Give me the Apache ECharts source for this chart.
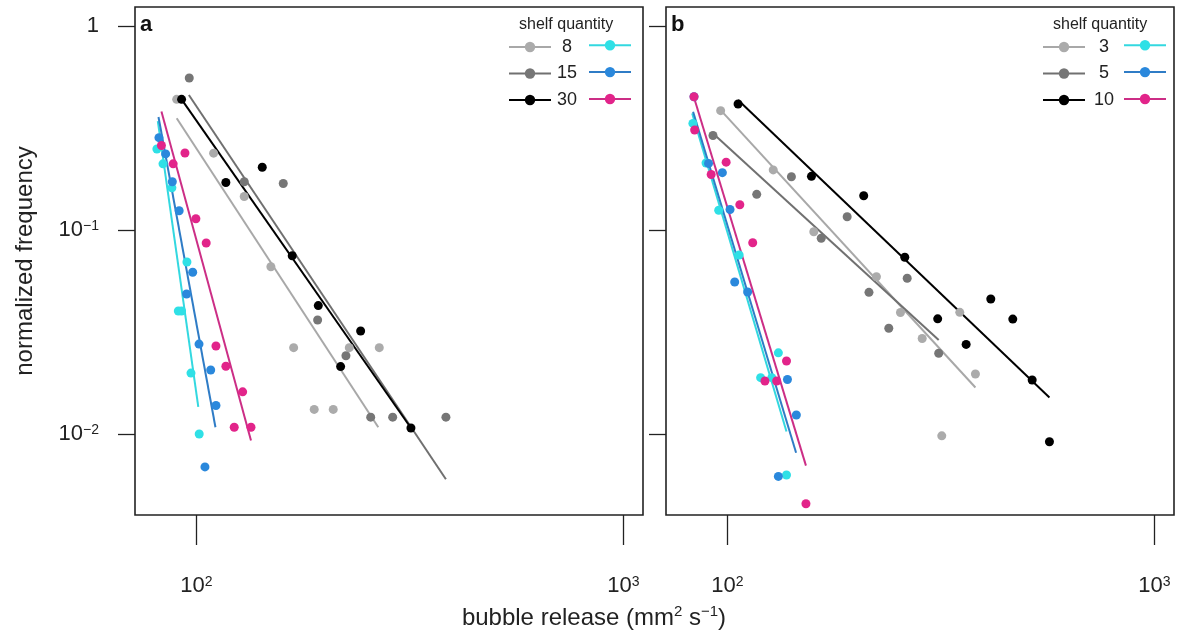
<!DOCTYPE html>
<html>
<head>
<meta charset="utf-8">
<script src="https://cdn.jsdelivr.net/npm/echarts@6/dist/echarts.min.js"></script>
<style>
html,body{margin:0;padding:0;background:#fff;}
#chart{width:1188px;height:633px;}
</style>
</head>
<body>
<div id="chart"></div>
<script>
// ---------- tick values ----------
const xTickValues = [100, 1000];
const xTickExponents = [2, 3];
const yTickValues = [0.01, 0.1, 1];
const yTickLabels = ['10{s|\u22122}', '10{s|\u22121}', '1'];

// ---------- legend labels ----------
const shelfA = ['8', '15', '30'];
const shelfB = ['3', '5', '10'];

// ---------- panel a : points [bubble release, normalized frequency] ----------
const a8Grey  = [[89.9,0.437],[109.7,0.238],[129.4,0.146],[149.4,0.0661],[168.9,0.0265],[228.0,0.0265],[268.0,0.0265],[188.7,0.0132],[209.1,0.0132]];
const a15Grey = [[96.2,0.556],[129.4,0.1725],[159.7,0.169],[192.2,0.0362],[223.9,0.0242],[255.9,0.0121],[288.1,0.0121],[383.9,0.0121]];
const a30Grey = [[92.3,0.437],[117.2,0.171],[142.6,0.203],[167.6,0.0748],[192.9,0.0426],[242.4,0.032],[217.6,0.0214],[317.9,0.0107]];
const a8Col   = [[80.8,0.2495],[83.5,0.211],[87.6,0.161],[95.0,0.0697],[90.7,0.0401],[92.3,0.0401],[97.1,0.0199],[101.5,0.0100]];
const a15Col  = [[81.7,0.2835],[84.7,0.236],[87.8,0.1725],[91.1,0.1243],[98.0,0.0621],[94.8,0.0486],[101.4,0.0276],[108.0,0.0206],[111.1,0.0138],[104.7,0.0069]];
const a30Col  = [[82.8,0.2596],[94.0,0.2385],[88.2,0.211],[99.7,0.1136],[105.4,0.0864],[111.1,0.0270],[117.2,0.0215],[128.3,0.0161],[122.6,0.0108],[134.2,0.0108]];

// panel a : fitted power-law lines (end points)
const fitA8Grey  = [[89.9,0.353],[266.6,0.0108]];
const fitA15Grey = [[96.0,0.459],[383.9,0.0060]];
const fitA30Grey = [[92.3,0.437],[317.9,0.0107]];
const fitA8Col   = [[81.2,0.342],[101.0,0.0136]];
const fitA15Col  = [[81.5,0.358],[110.8,0.0108]];
const fitA30Col  = [[82.8,0.381],[134.2,0.0093]];

// ---------- panel b ----------
const b3Grey  = [[96.4,0.3845],[128.0,0.197],[159.3,0.0981],[223.3,0.059],[254.2,0.0394],[285.8,0.0294],[350.0,0.0395],[380.8,0.0197],[317.6,0.0098]];
const b5Grey  = [[92.5,0.2905],[117.1,0.1496],[141.2,0.1825],[165.8,0.0911],[190.7,0.1162],[214.5,0.0495],[238.7,0.033],[263.6,0.058],[312.4,0.0249]];
const b10Grey = [[105.9,0.4146],[157.3,0.1833],[208.5,0.1473],[260.2,0.0735],[310.7,0.0367],[413.7,0.0459],[465.8,0.0366],[362.2,0.0275],[517.1,0.0184],[567.6,0.00917]];
const b3Col   = [[83.0,0.333],[89.1,0.213],[95.4,0.125],[106.5,0.0754],[131.6,0.025],[119.6,0.0189],[127.0,0.0189],[137.5,0.0063]];
const b5Col   = [[83.5,0.450],[90.3,0.212],[97.3,0.191],[101.4,0.126],[104.0,0.0556],[111.5,0.0497],[138.2,0.0185],[145.0,0.0124],[131.6,0.0062]];
const b10Col  = [[83.5,0.450],[83.8,0.309],[91.6,0.187],[99.3,0.215],[106.9,0.133],[114.6,0.0866],[137.5,0.0228],[122.4,0.0182],[130.4,0.0182],[152.7,0.00455]];

const fitB3Grey  = [[96.3,0.388],[380.8,0.0169]];
const fitB5Grey  = [[92.4,0.298],[312.4,0.0289]];
const fitB10Grey = [[105.9,0.434],[567.6,0.0151]];
const fitB3Col   = [[82.7,0.373],[137.5,0.0103]];
const fitB5Col   = [[83.1,0.380],[144.8,0.0081]];
const fitB10Col  = [[83.4,0.450],[152.7,0.0070]];

// ---------- styling ----------
const FONT = 'Liberation Sans, Arial, Helvetica, sans-serif';
const greyColors = ['#ababab', '#767676', '#000000'];
const colColors  = ['#2fe0e6', '#2a88dc', '#e2248a'];
const greyLineColors = ['#a8a8a8', '#707070', '#000000'];
const colLineColors  = ['#33d8e0', '#2f7cc6', '#cc2e86'];

const X_MIN = 71.8, X_MAX = 1111, Y_MIN = 0.00401, Y_MAX = 1.239;

function makeSeries(name, gridIdx, fit, pts, color, lineColor) {
  return [
    {
      name: name, type: 'line', xAxisIndex: gridIdx, yAxisIndex: gridIdx,
      data: fit, symbol: 'circle', showSymbol: false, symbolSize: 9,
      itemStyle: { color: color },
      lineStyle: { color: lineColor, width: 2 },
      silent: true, z: 2
    },
    {
      name: name, type: 'scatter', xAxisIndex: gridIdx, yAxisIndex: gridIdx,
      data: pts, symbol: 'circle', symbolSize: 9,
      itemStyle: { color: color, opacity: 1 },
      silent: true, z: 3
    }
  ];
}

const greyA = [a8Grey, a15Grey, a30Grey], colA = [a8Col, a15Col, a30Col];
const fitGreyA = [fitA8Grey, fitA15Grey, fitA30Grey], fitColA = [fitA8Col, fitA15Col, fitA30Col];
const greyB = [b3Grey, b5Grey, b10Grey], colB = [b3Col, b5Col, b10Col];
const fitGreyB = [fitB3Grey, fitB5Grey, fitB10Grey], fitColB = [fitB3Col, fitB5Col, fitB10Col];

let series = [];
for (let i = 0; i < 3; i++) {
  series = series.concat(makeSeries(shelfA[i], 0, fitGreyA[i], greyA[i], greyColors[i], greyLineColors[i]));
}
for (let i = 0; i < 3; i++) {
  series = series.concat(makeSeries('a-col-' + shelfA[i], 0, fitColA[i], colA[i], colColors[i], colLineColors[i]));
}
for (let i = 0; i < 3; i++) {
  series = series.concat(makeSeries(shelfB[i], 1, fitGreyB[i], greyB[i], greyColors[i], greyLineColors[i]));
}
for (let i = 0; i < 3; i++) {
  series = series.concat(makeSeries('b-col-' + shelfB[i], 1, fitColB[i], colB[i], colColors[i], colLineColors[i]));
}

function xAxisCfg(gridIdx) {
  return {
    type: 'log', logBase: 10, gridIndex: gridIdx, min: X_MIN, max: X_MAX,
    axisLine: { show: false },
    splitLine: { show: false },
    minorTick: { show: false },
    axisTick: { show: true, inside: false, length: 30, customValues: xTickValues,
      lineStyle: { color: '#222', width: 1.3 } },
    axisLabel: {
      show: true, customValues: xTickValues, margin: 60,
      fontFamily: FONT, fontSize: 22, color: '#222',
      formatter: function (v) {
        const idx = xTickValues.indexOf(Math.round(v));
        return '10{s|' + (idx >= 0 ? xTickExponents[idx] : '') + '}';
      },
      rich: { s: { fontSize: 14, fontFamily: FONT, color: '#222', verticalAlign: 'top', lineHeight: 14 } }
    }
  };
}
function yAxisCfg(gridIdx, showLabel) {
  const cfg = {
    type: 'log', logBase: 10, gridIndex: gridIdx, min: Y_MIN, max: Y_MAX,
    axisLine: { show: false },
    splitLine: { show: false },
    minorTick: { show: false },
    axisTick: { show: true, inside: false, length: 17, customValues: yTickValues,
      lineStyle: { color: '#222', width: 1.3 } },
    axisLabel: {
      show: showLabel, customValues: yTickValues, margin: 36,
      fontFamily: FONT, fontSize: 22, color: '#222',
      formatter: function (v) {
        let best = 0, bd = Infinity;
        yTickValues.forEach(function (t, i) { const d = Math.abs(Math.log10(t) - Math.log10(v)); if (d < bd) { bd = d; best = i; } });
        return yTickLabels[best];
      },
      rich: { s: { fontSize: 14, fontFamily: FONT, color: '#222', verticalAlign: 'top', lineHeight: 14 } }
    }
  };
  if (showLabel) {
    cfg.name = 'normalized frequency';
    cfg.nameLocation = 'middle';
    cfg.nameGap = 98;
    cfg.nameTextStyle = { fontFamily: FONT, fontSize: 24, color: '#222' };
  }
  return cfg;
}

function legendGrey(left, names, textWidth) {
  return {
    left: left, top: 38, orient: 'vertical', itemWidth: 42, itemHeight: 13, itemGap: 8.5,
    selectedMode: false, padding: 0,
    data: names,
    formatter: function (n) { return '{t|' + n + '}'; },
    textStyle: { fontFamily: FONT, fontSize: 18, color: '#222', lineHeight: 13,
      rich: { t: { width: textWidth, align: 'center', fontFamily: FONT, fontSize: 18, color: '#222', lineHeight: 13 } } }
  };
}
function legendCol(left, names) {
  return {
    left: left, top: 40, orient: 'vertical', itemWidth: 42, itemHeight: 13, itemGap: 16.5,
    selectedMode: false, padding: 0,
    data: names,
    formatter: function () { return ''; },
    textStyle: { fontSize: 18, lineHeight: 13 }
  };
}

const option = {
  backgroundColor: '#ffffff',
  animation: false,
  grid: [
    { left: 135, top: 7, width: 508, height: 508, show: true, borderColor: '#222', borderWidth: 1.6, backgroundColor: 'transparent' },
    { left: 666, top: 7, width: 508, height: 508, show: true, borderColor: '#222', borderWidth: 1.6, backgroundColor: 'transparent' }
  ],
  xAxis: [xAxisCfg(0), xAxisCfg(1)],
  yAxis: [yAxisCfg(0, true), yAxisCfg(1, false)],
  title: [
    { text: 'a', left: 140, top: 14, padding: 0, textStyle: { fontFamily: FONT, fontSize: 22, fontWeight: 'bold', color: '#111' } },
    { text: 'b', left: 671, top: 14, padding: 0, textStyle: { fontFamily: FONT, fontSize: 22, fontWeight: 'bold', color: '#111' } },
    { text: 'shelf quantity', left: 519, top: 17, padding: 0, textStyle: { fontFamily: FONT, fontSize: 16, fontWeight: 'normal', color: '#222' } },
    { text: 'shelf quantity', left: 1053, top: 17, padding: 0, textStyle: { fontFamily: FONT, fontSize: 16, fontWeight: 'normal', color: '#222' } },
    { text: '{n|bubble release (mm}{s|2}{n| s}{s|\u22121}{n|)}', left: 'center', top: 604, padding: 0,
      textStyle: { fontWeight: 'normal', rich: {
        n: { fontFamily: FONT, fontSize: 24, fontWeight: 'normal', color: '#222', lineHeight: 28 },
        s: { fontFamily: FONT, fontSize: 15, fontWeight: 'normal', color: '#222', lineHeight: 15, verticalAlign: 'top' }
      } } }
  ],
  legend: [
    legendGrey(508, shelfA, 22),
    legendCol(588, shelfA.map(function (s) { return 'a-col-' + s; })),
    legendGrey(1042, shelfB, 28),
    legendCol(1123, shelfB.map(function (s) { return 'b-col-' + s; }))
  ],
  series: series
};

const chart = echarts.init(document.getElementById('chart'), null, { renderer: 'canvas' });
chart.setOption(option);
</script>
</body>
</html>
